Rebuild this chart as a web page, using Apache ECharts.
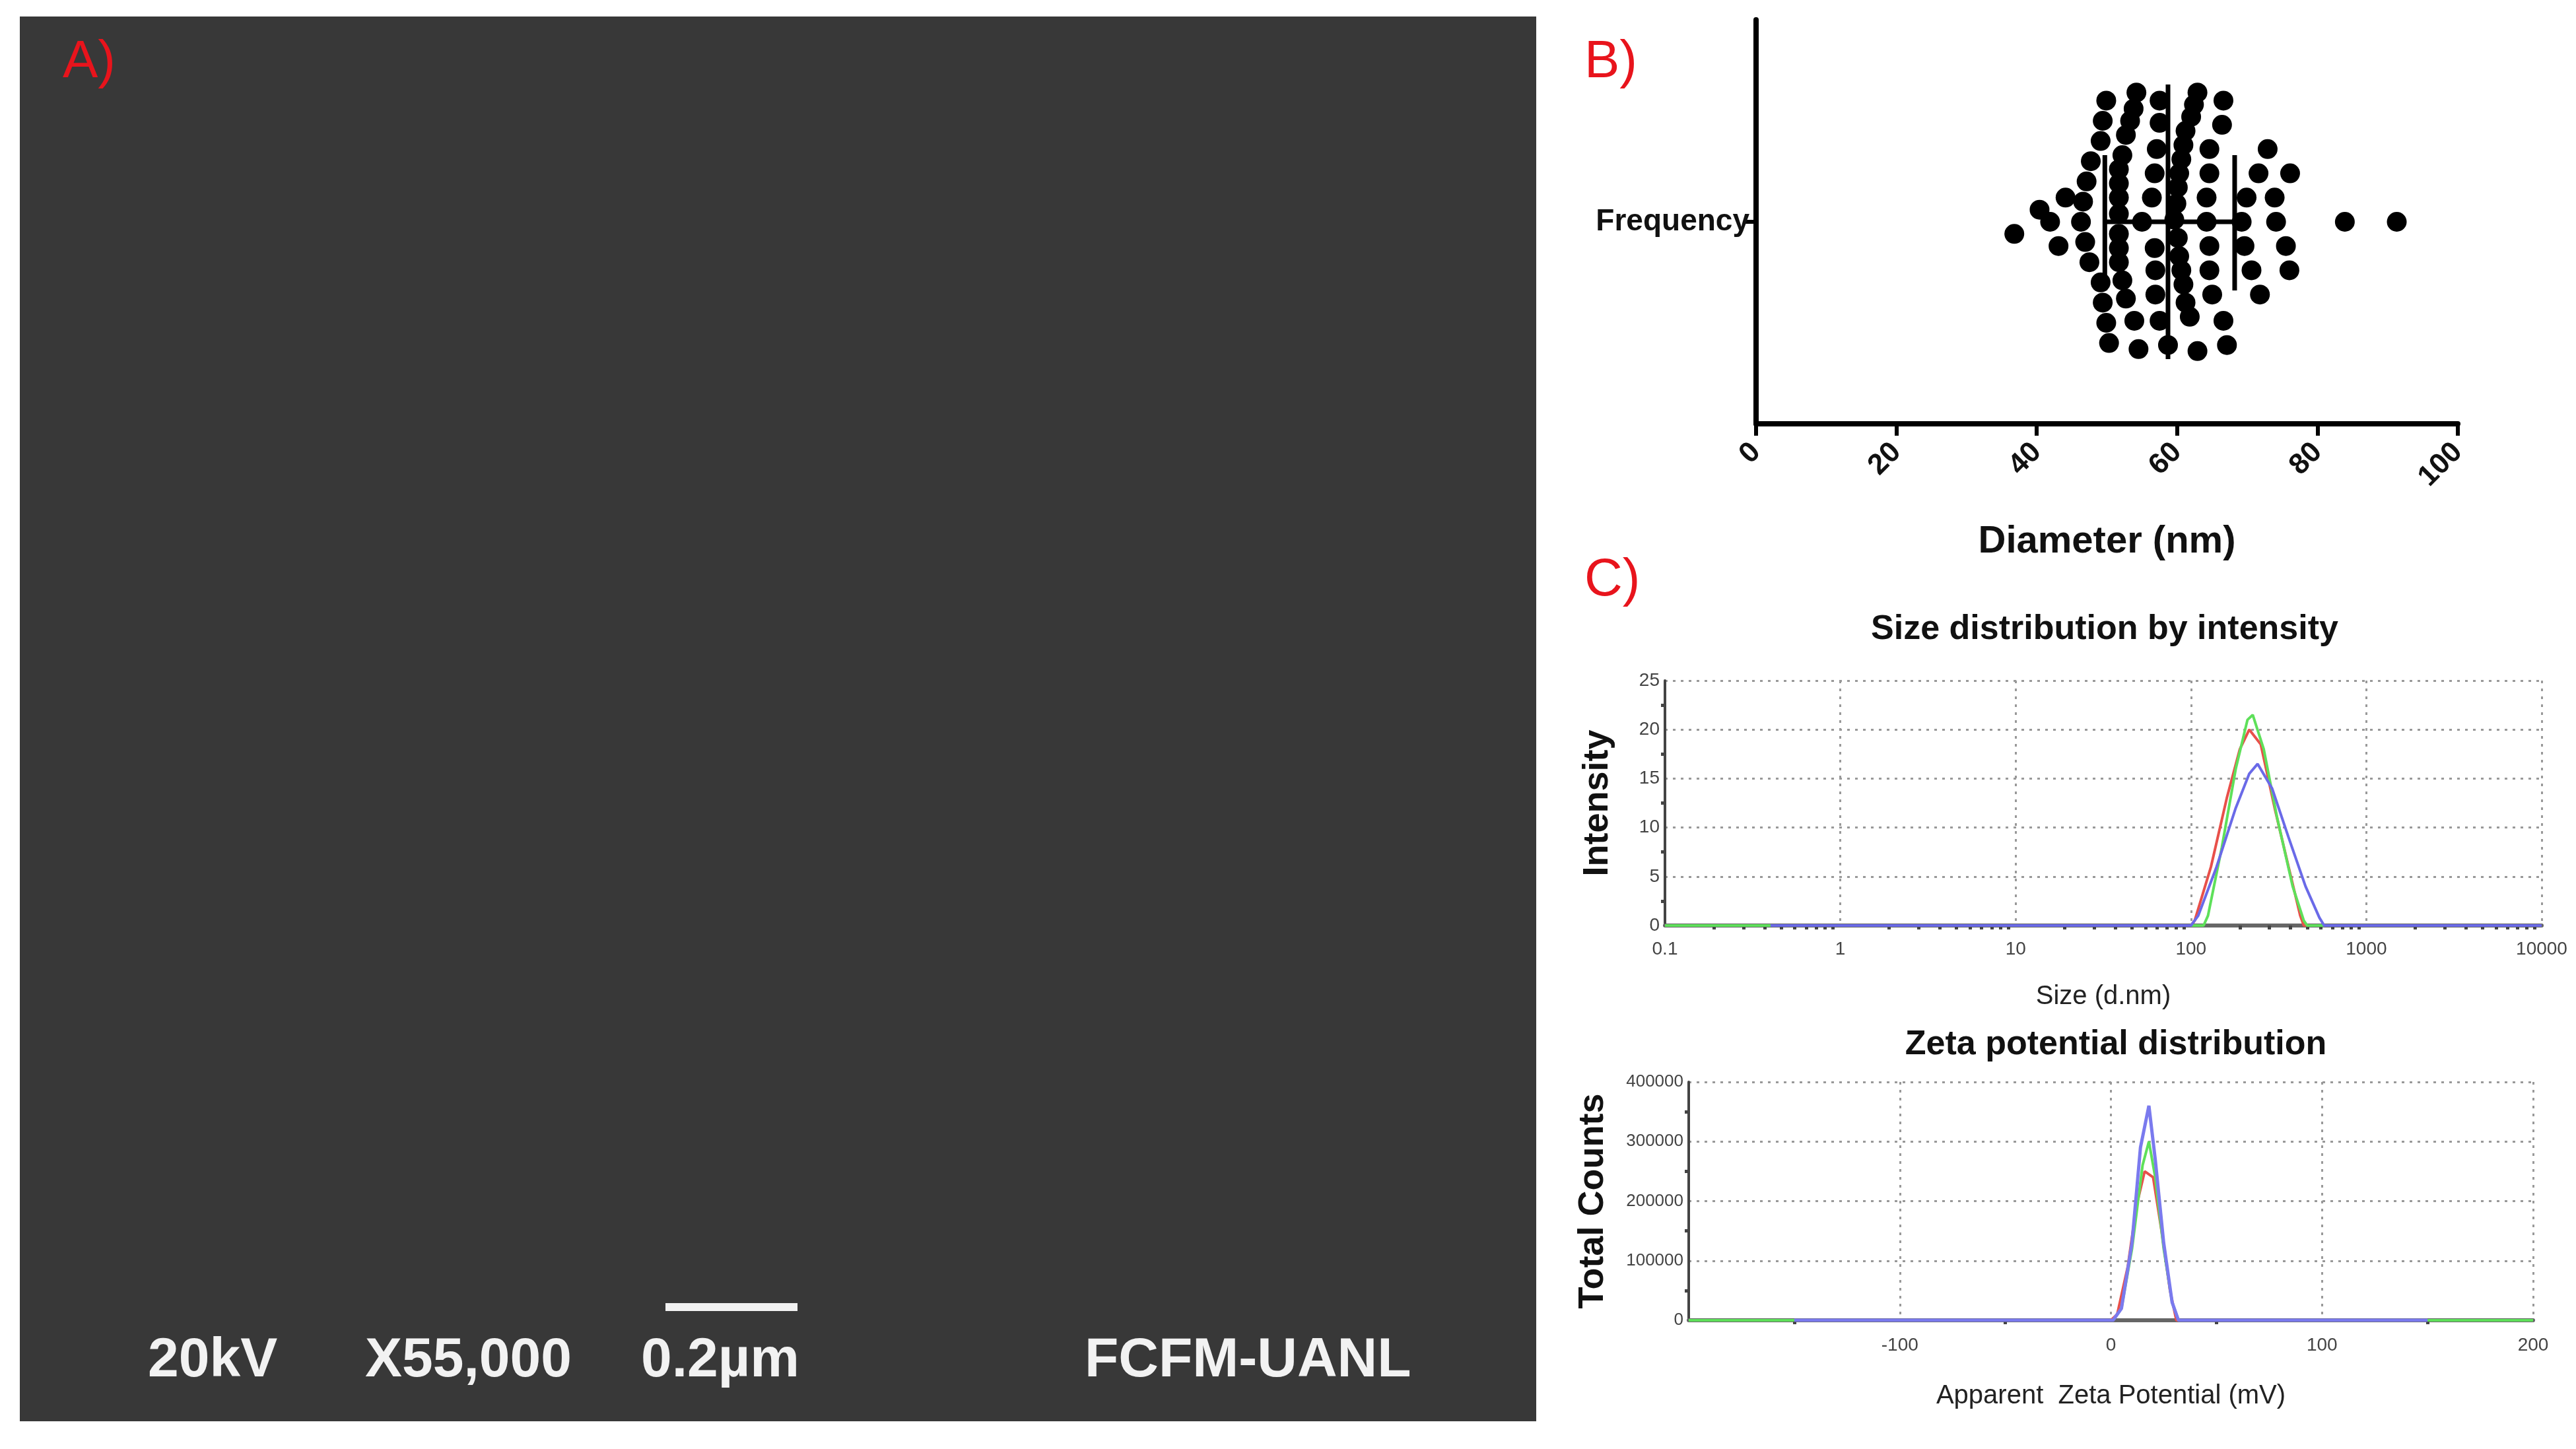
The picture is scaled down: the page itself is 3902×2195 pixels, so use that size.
<!DOCTYPE html>
<html lang="en">
<head>
    <meta charset="UTF-8">
    <title>Nanoparticles</title>
    <script src="https://cdn.jsdelivr.net/npm/echarts@6/dist/echarts.min.js"></script>
    <style>html,body{margin:0;padding:0;background:#fff;}</style>
</head>
<body>
<div id="main" style="width:3902px;height:2195px;"></div>
<script type="text/javascript">
    // B) diameter dot plot: x = diameter (nm), y = swarm offset (-1..1)
    var diamX = [49.9,54.2,57.5,62.9,66.6, 53.8,62.4, 49.4,53.3,57.5,62.0,66.4,
        49.1,52.7,57.1,61.2,64.6,72.9, 52.2,60.9,
        47.7,51.7,56.8,60.6,64.6,71.6,76.1, 47.1,51.7,60.3,
        44.1,46.6,51.7,56.4,60.1,64.2,69.9,73.9,
        40.4,41.9,46.3,51.7,55.0,59.9,64.2,69.2,74.1,83.9,91.3,
        36.8,46.9,51.7,59.6,
        43.1,51.7,56.8,60.1,64.6,69.6,75.5, 47.5,51.7,60.3,
        56.9,60.6,64.6,70.6,76.0, 49.1,52.2,60.9,
        49.4,52.7,56.9,61.2,65.0,71.8, 49.9,53.9,57.5,61.8,66.6,
        50.3,54.5,58.7,62.9,67.1];
    var diamY = [0.60,0.64,0.60,0.64,0.60, 0.56,0.58, 0.50,0.50,0.49,0.52,0.48,
        0.40,0.43,0.36,0.45,0.36,0.36, 0.33,0.38,
        0.30,0.26,0.24,0.31,0.24,0.24,0.24, 0.20,0.19,0.24,
        0.12,0.10,0.12,0.12,0.17,0.12,0.12,0.12,
        0.06,0,0,0.04,0,0.09,0,0,0,0,0,
        -0.06,-0.10,-0.06,0.01,
        -0.12,-0.13,-0.13,-0.08,-0.12,-0.12,-0.12, -0.20,-0.20,-0.17,
        -0.24,-0.24,-0.24,-0.24,-0.24, -0.30,-0.29,-0.31,
        -0.40,-0.38,-0.36,-0.40,-0.36,-0.36, -0.50,-0.49,-0.49,-0.47,-0.49,
        -0.60,-0.63,-0.61,-0.64,-0.61];
    var diamMean = 58.7, diamLow = 49.7, diamHigh = 68.2;
    var diamTicks = [0, 20, 40, 60, 80, 100];

    // C) size distribution by intensity: [size d.nm, intensity %]
    var sizeRed = [[0.1,0],[100,0],[105,0.5],[130,6],[160,13],[190,18],[215,20],[250,18.5],[300,12],[360,6],[420,1],[440,0],[10000,0]];
    var sizeGreen = [[0.1,0],[118,0],[125,1],[150,8],[180,16],[210,21],[225,21.5],[260,18],[310,11],[380,4],[440,0.5],[460,0],[10000,0]];
    var sizeBlue = [[0.4,0],[100,0],[110,1],[140,6],[180,12],[215,15.5],[240,16.5],[290,14],[360,9],[450,4],[540,0.8],[575,0],[10000,0]];

    // zeta potential distribution: [mV, total counts]
    var zetaRed = [[-200,0],[0,0],[3,10000],[8,90000],[12,190000],[16,250000],[20,240000],[24,150000],[28,50000],[31,0],[200,0]];
    var zetaGreen = [[-200,0],[1,0],[5,20000],[10,120000],[15,260000],[18,300000],[21,240000],[25,120000],[29,30000],[32,0],[200,0]];
    var zetaBlue = [[-150,0],[1,0],[5,20000],[10,130000],[14,290000],[18,360000],[21,270000],[25,130000],[29,30000],[32,0],[150,0]];

    var swarm = diamX.map(function (x, i) { return [x, diamY[i]]; });
    var FONT = 'Liberation Sans';
    var TITLE_FONT = 'bold 52px "Liberation Sans"';
    var SEM_FONT = 'bold 84px "Liberation Sans"';

    var chart = echarts.init(document.getElementById('main'));

    function dashedGrid() {
        return { show: true, lineStyle: { color: '#999', type: [4, 8], width: 3 } };
    }

    chart.setOption({
        animation: false,
        backgroundColor: '#fff',
        graphic: [
            { type: 'rect', shape: { x: 30, y: 25, width: 2297, height: 2128 }, style: { fill: '#383838' } },
            { type: 'text', left: 95, top: 55, style: { text: 'A)', fill: '#e8141c', font: '80px "Liberation Sans"' } },
            { type: 'text', left: 224, top: 2020, style: { text: '20kV', fill: '#f2f2f2', font: SEM_FONT } },
            { type: 'text', left: 553, top: 2020, style: { text: 'X55,000', fill: '#f2f2f2', font: SEM_FONT } },
            { type: 'rect', shape: { x: 1008, y: 1974, width: 200, height: 12 }, style: { fill: '#f2f2f2' } },
            { type: 'text', left: 971, top: 2020, style: { text: '0.2µm', fill: '#f2f2f2', font: SEM_FONT } },
            { type: 'text', left: 1643, top: 2020, style: { text: 'FCFM-UANL', fill: '#f2f2f2', font: SEM_FONT } },
            { type: 'text', left: 2400, top: 55, style: { text: 'B)', fill: '#e8141c', font: '80px "Liberation Sans"' } },
            { type: 'text', left: 2400, top: 840, style: { text: 'C)', fill: '#e8141c', font: '80px "Liberation Sans"' } },
            { type: 'text', x: 3188, y: 954, style: { text: 'Size distribution by intensity', fill: '#111', font: TITLE_FONT, align: 'center', verticalAlign: 'middle' } },
            { type: 'text', x: 3205, y: 1583, style: { text: 'Zeta potential distribution', fill: '#111', font: TITLE_FONT, align: 'center', verticalAlign: 'middle' } }
        ],
        grid: [
            { left: 2660, right: 179, top: 30, bottom: 1553 },
            { left: 2522, right: 52, top: 1031, bottom: 793 },
            { left: 2558, right: 65, top: 1639, bottom: 195 }
        ],
        xAxis: [
            {
                gridIndex: 0, type: 'value', min: 0, max: 100, interval: 20,
                name: 'Diameter (nm)', nameLocation: 'middle', nameGap: 150,
                nameTextStyle: { fontFamily: FONT, fontWeight: 'bold', fontSize: 58, color: '#111' },
                axisLine: { onZero: false, lineStyle: { color: '#000', width: 8 } },
                axisTick: { length: 18, lineStyle: { color: '#000', width: 6 } },
                axisLabel: { rotate: 45, fontFamily: FONT, fontWeight: 'bold', fontSize: 44, color: '#111', margin: 36,
                    customValues: diamTicks },
                splitLine: { show: false }
            },
            {
                gridIndex: 1, type: 'log', logBase: 10, min: 0.1, max: 10000,
                name: 'Size (d.nm)', nameLocation: 'middle', nameGap: 88,
                nameTextStyle: { fontFamily: FONT, fontSize: 40, color: '#222' },
                axisLine: { onZero: false, lineStyle: { color: '#666', width: 6 } },
                axisTick: { show: false },
                minorTick: { show: true, splitNumber: 10, length: 6, lineStyle: { color: '#444', width: 5 } },
                axisLabel: { fontFamily: FONT, fontSize: 28, color: '#444', margin: 22,
                    formatter: function (v) { return String(v); } },
                splitLine: dashedGrid()
            },
            {
                gridIndex: 2, type: 'value', min: -200, max: 200, interval: 100,
                name: 'Apparent  Zeta Potential (mV)', nameLocation: 'middle', nameGap: 95,
                nameTextStyle: { fontFamily: FONT, fontSize: 40, color: '#222' },
                axisLine: { onZero: false, lineStyle: { color: '#666', width: 6 } },
                axisTick: { show: false },
                minorTick: { show: true, splitNumber: 2, length: 6, lineStyle: { color: '#444', width: 5 } },
                axisLabel: { fontFamily: FONT, fontSize: 28, color: '#444', margin: 24,
                    formatter: function (v) { return v === -200 ? '' : String(v); } },
                splitLine: dashedGrid()
            }
        ],
        yAxis: [
            {
                gridIndex: 0, type: 'value', min: -1, max: 1, interval: 1,
                axisLine: { show: true, onZero: false, lineStyle: { color: '#000', width: 8 } },
                axisTick: { show: true, length: 18, customValues: [0], lineStyle: { color: '#000', width: 6 } },
                axisLabel: { fontFamily: FONT, fontWeight: 'bold', fontSize: 46, color: '#111', margin: 10,
                    customValues: [0],
                    formatter: function (v) { return v === 0 ? 'Frequency' : ''; } },
                splitLine: { show: false }
            },
            {
                gridIndex: 1, type: 'value', min: 0, max: 25, interval: 5,
                name: 'Intensity', nameLocation: 'middle', nameGap: 75,
                nameTextStyle: { fontFamily: FONT, fontWeight: 'bold', fontSize: 54, color: '#111' },
                axisLine: { show: true, onZero: false, lineStyle: { color: '#444', width: 4 } },
                axisTick: { show: false },
                minorTick: { show: true, splitNumber: 2, length: 6, lineStyle: { color: '#444', width: 5 } },
                axisLabel: { fontFamily: FONT, fontSize: 28, color: '#444', margin: 8 },
                splitLine: dashedGrid()
            },
            {
                gridIndex: 2, type: 'value', min: 0, max: 400000, interval: 100000,
                name: 'Total Counts', nameLocation: 'middle', nameGap: 118,
                nameTextStyle: { fontFamily: FONT, fontWeight: 'bold', fontSize: 54, color: '#111' },
                axisLine: { show: true, onZero: false, lineStyle: { color: '#444', width: 4 } },
                axisTick: { show: false },
                minorTick: { show: true, splitNumber: 2, length: 6, lineStyle: { color: '#444', width: 5 } },
                axisLabel: { fontFamily: FONT, fontSize: 26, color: '#444', margin: 8,
                    formatter: function (v) { return String(v); } },
                splitLine: dashedGrid()
            }
        ],
        series: [
            {
                type: 'scatter', xAxisIndex: 0, yAxisIndex: 0, data: swarm,
                symbolSize: 30, itemStyle: { color: '#000', opacity: 1 }
            },
            {
                type: 'line', xAxisIndex: 0, yAxisIndex: 0, symbol: 'none',
                lineStyle: { color: '#000', width: 7 },
                data: [[diamMean, 0.68], [diamMean, -0.68]]
            },
            {
                type: 'line', xAxisIndex: 0, yAxisIndex: 0, symbol: 'none',
                lineStyle: { color: '#000', width: 7 },
                data: [[diamLow, 0], [diamHigh, 0]]
            },
            {
                type: 'line', xAxisIndex: 0, yAxisIndex: 0, symbol: 'none',
                lineStyle: { color: '#000', width: 7 },
                data: [[diamLow, 0.33], [diamLow, -0.34]]
            },
            {
                type: 'line', xAxisIndex: 0, yAxisIndex: 0, symbol: 'none',
                lineStyle: { color: '#000', width: 7 },
                data: [[diamHigh, 0.33], [diamHigh, -0.34]]
            },
            { type: 'line', xAxisIndex: 1, yAxisIndex: 1, symbol: 'none', data: sizeRed, lineStyle: { color: '#e8504a', width: 4 } },
            { type: 'line', xAxisIndex: 1, yAxisIndex: 1, symbol: 'none', data: sizeGreen, lineStyle: { color: '#5ee05a', width: 4 } },
            { type: 'line', xAxisIndex: 1, yAxisIndex: 1, symbol: 'none', data: sizeBlue, lineStyle: { color: '#6a6ae8', width: 4 } },
            { type: 'line', xAxisIndex: 2, yAxisIndex: 2, symbol: 'none', data: zetaRed, lineStyle: { color: '#e8504a', width: 4 } },
            { type: 'line', xAxisIndex: 2, yAxisIndex: 2, symbol: 'none', data: zetaGreen, lineStyle: { color: '#5ee05a', width: 4 } },
            { type: 'line', xAxisIndex: 2, yAxisIndex: 2, symbol: 'none', data: zetaBlue, lineStyle: { color: '#7a7aee', width: 5 } }
        ]
    });
</script>
</body>
</html>
